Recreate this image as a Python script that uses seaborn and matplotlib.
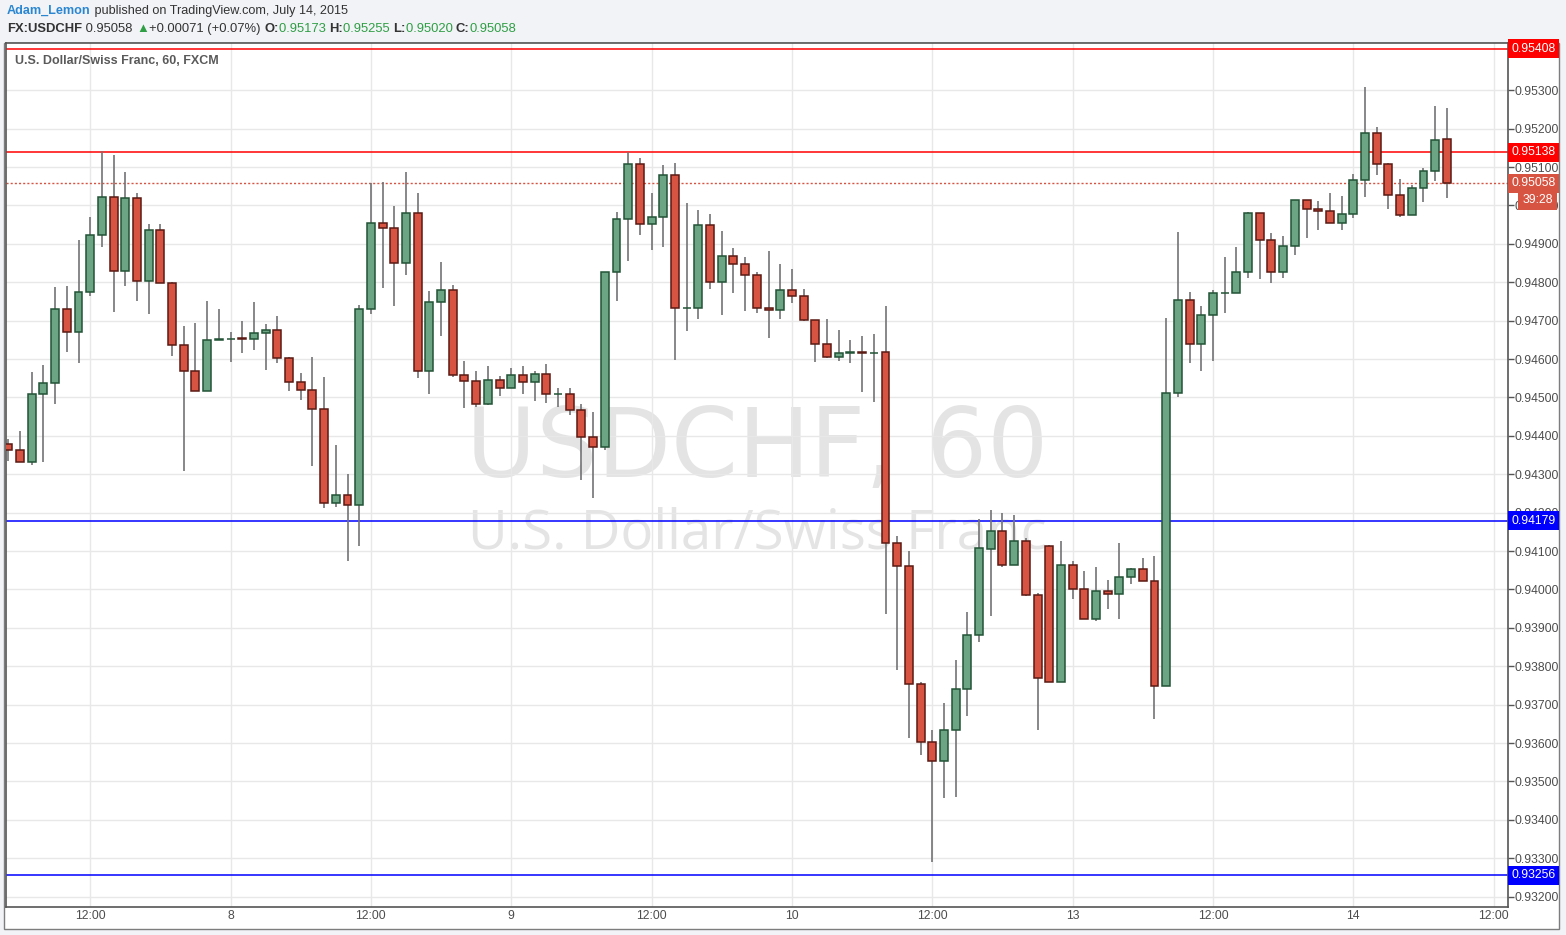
import numpy as np
import pandas as pd
import seaborn as sns
import matplotlib.pyplot as plt
import matplotlib.transforms as mtransforms
from matplotlib.patches import Rectangle

# hourly FX:USDCHF candles, July 7 05:00 .. July 14 08:00 (weekend removed)
opens = [0.94378, 0.94362, 0.94331, 0.94508, 0.94537, 0.94730, 0.94670, 0.94774, 0.94923, 0.95022,
         0.94829, 0.95019, 0.94803, 0.94936, 0.94798, 0.94636, 0.94568, 0.94516, 0.94649, 0.94652,
         0.94654, 0.94651, 0.94667, 0.94675, 0.94602, 0.94539, 0.94519, 0.94469, 0.94224, 0.94247,
         0.94221, 0.94730, 0.94954, 0.94941, 0.94850, 0.94980, 0.94568, 0.94748, 0.94779, 0.94558,
         0.94542, 0.94482, 0.94545, 0.94524, 0.94558, 0.94539, 0.94560, 0.94508, 0.94508, 0.94466,
         0.94398, 0.94370, 0.94826, 0.94965, 0.95108, 0.94951, 0.94970, 0.95079, 0.94732, 0.94732,
         0.94949, 0.94800, 0.94868, 0.94847, 0.94819, 0.94732, 0.94727, 0.94779, 0.94764, 0.94701,
         0.94638, 0.94604, 0.94617, 0.94618, 0.94616, 0.94618, 0.94122, 0.94061, 0.93754, 0.93603,
         0.93554, 0.93633, 0.93742, 0.93882, 0.94105, 0.94151, 0.94063, 0.94127, 0.93986, 0.94114,
         0.93759, 0.94063, 0.94001, 0.93924, 0.93996, 0.93987, 0.94033, 0.94054, 0.94023, 0.93749,
         0.94511, 0.94754, 0.94638, 0.94714, 0.94772, 0.94772, 0.94826, 0.94980, 0.94910, 0.94827,
         0.94894, 0.95014, 0.94991, 0.94986, 0.94955, 0.94977, 0.95067, 0.95189, 0.95108, 0.95027,
         0.94975, 0.95045, 0.95090, 0.95173]
highs = [0.94391, 0.94412, 0.94566, 0.94584, 0.94788, 0.94791, 0.94910, 0.94971, 0.95143, 0.95132,
         0.95088, 0.95033, 0.94952, 0.94952, 0.94800, 0.94686, 0.94694, 0.94751, 0.94731, 0.94670,
         0.94699, 0.94749, 0.94691, 0.94712, 0.94604, 0.94563, 0.94604, 0.94552, 0.94376, 0.94300,
         0.94742, 0.95059, 0.95061, 0.94998, 0.95088, 0.95033, 0.94777, 0.94852, 0.94793, 0.94594,
         0.94568, 0.94581, 0.94555, 0.94576, 0.94581, 0.94568, 0.94586, 0.94524, 0.94524, 0.94482,
         0.94461, 0.94826, 0.94983, 0.95139, 0.95124, 0.95033, 0.95105, 0.95110, 0.95006, 0.94988,
         0.94978, 0.94933, 0.94889, 0.94865, 0.94826, 0.94881, 0.94847, 0.94834, 0.94782, 0.94701,
         0.94704, 0.94675, 0.94649, 0.94659, 0.94665, 0.94739, 0.94140, 0.94099, 0.93760, 0.93633,
         0.93703, 0.93815, 0.93941, 0.94184, 0.94207, 0.94199, 0.94193, 0.94135, 0.93990, 0.94117,
         0.94125, 0.94073, 0.94049, 0.94059, 0.94025, 0.94122, 0.94056, 0.94081, 0.94086, 0.94707,
         0.94931, 0.94775, 0.94739, 0.94780, 0.94866, 0.94892, 0.94983, 0.94980, 0.94928, 0.94920,
         0.95014, 0.95014, 0.95012, 0.95033, 0.95025, 0.95083, 0.95309, 0.95205, 0.95111, 0.95070,
         0.95053, 0.95098, 0.95260, 0.95255]
lows = [0.94335, 0.94331, 0.94324, 0.94331, 0.94484, 0.94619, 0.94590, 0.94763, 0.94893, 0.94723,
        0.94789, 0.94750, 0.94718, 0.94798, 0.94609, 0.94309, 0.94516, 0.94516, 0.94649, 0.94593,
        0.94616, 0.94624, 0.94572, 0.94590, 0.94517, 0.94494, 0.94322, 0.94211, 0.94215, 0.94074,
        0.94113, 0.94718, 0.94786, 0.94737, 0.94820, 0.94551, 0.94510, 0.94659, 0.94552, 0.94472,
        0.94474, 0.94479, 0.94503, 0.94524, 0.94510, 0.94490, 0.94485, 0.94474, 0.94453, 0.94285,
        0.94239, 0.94364, 0.94750, 0.94854, 0.94924, 0.94885, 0.94893, 0.94597, 0.94672, 0.94704,
        0.94782, 0.94714, 0.94772, 0.94725, 0.94719, 0.94654, 0.94704, 0.94745, 0.94698, 0.94591,
        0.94602, 0.94594, 0.94589, 0.94513, 0.94487, 0.93937, 0.93790, 0.93613, 0.93569, 0.93289,
        0.93456, 0.93460, 0.93671, 0.93863, 0.93931, 0.94059, 0.94063, 0.93983, 0.93634, 0.93759,
        0.93759, 0.93975, 0.93924, 0.93918, 0.93949, 0.93923, 0.94014, 0.94023, 0.93662, 0.93749,
        0.94500, 0.94590, 0.94570, 0.94594, 0.94721, 0.94772, 0.94810, 0.94808, 0.94799, 0.94812,
        0.94870, 0.94914, 0.94935, 0.94955, 0.94935, 0.94968, 0.95021, 0.95080, 0.94990, 0.94971,
        0.94975, 0.95008, 0.95064, 0.95020]
closes = [0.94362, 0.94331, 0.94508, 0.94537, 0.94730, 0.94670, 0.94774, 0.94923, 0.95022, 0.94829,
          0.95019, 0.94803, 0.94936, 0.94798, 0.94636, 0.94568, 0.94516, 0.94649, 0.94651, 0.94653,
          0.94652, 0.94667, 0.94675, 0.94602, 0.94539, 0.94519, 0.94469, 0.94224, 0.94247, 0.94221,
          0.94730, 0.94954, 0.94941, 0.94850, 0.94980, 0.94568, 0.94748, 0.94779, 0.94558, 0.94542,
          0.94482, 0.94545, 0.94524, 0.94558, 0.94539, 0.94560, 0.94508, 0.94509, 0.94466, 0.94398,
          0.94370, 0.94826, 0.94965, 0.95108, 0.94951, 0.94970, 0.95079, 0.94732, 0.94733, 0.94949,
          0.94800, 0.94868, 0.94847, 0.94819, 0.94732, 0.94727, 0.94779, 0.94764, 0.94701, 0.94638,
          0.94604, 0.94617, 0.94618, 0.94616, 0.94617, 0.94122, 0.94061, 0.93754, 0.93603, 0.93554,
          0.93633, 0.93742, 0.93882, 0.94108, 0.94151, 0.94063, 0.94127, 0.93986, 0.93770, 0.93759,
          0.94063, 0.94001, 0.93924, 0.93996, 0.93987, 0.94033, 0.94054, 0.94023, 0.93749, 0.94511,
          0.94754, 0.94638, 0.94714, 0.94772, 0.94773, 0.94826, 0.94980, 0.94910, 0.94827, 0.94894,
          0.95014, 0.94991, 0.94986, 0.94955, 0.94977, 0.95067, 0.95189, 0.95108, 0.95027, 0.94975,
          0.95045, 0.95090, 0.95171, 0.95058]

time_ticks = [7, 19, 31, 43, 55, 67, 79, 91, 103, 115, 127]
time_labels = ["12:00", "8", "12:00", "9", "12:00", "10", "12:00", "13", "12:00", "14", "12:00"]
price_ticks = [0.932, 0.933, 0.934, 0.935, 0.936, 0.937, 0.938, 0.939, 0.940, 0.941, 0.942,
               0.943, 0.944, 0.945, 0.946, 0.947, 0.948, 0.949, 0.950, 0.951, 0.952, 0.953]

levels = [0.95408, 0.95138, 0.94179, 0.93256]
level_colors = ["#ff0000", "#ff0000", "#0000ff", "#0000ff"]
last_price = 0.95058
countdown = "39:28"

W, H = 1566, 935
UP, UP_EDGE = "#6ba583", "#225437"
DN, DN_EDGE = "#d75442", "#5b1a13"

df = pd.DataFrame({"open": opens, "high": highs, "low": lows, "close": closes})
df["bar"] = np.arange(len(df))
df["up"] = df["close"] >= df["open"]

sns.set_theme(style="white")
plt.rcParams["font.family"] = ["Liberation Sans", "DejaVu Sans"]

fig = plt.figure(figsize=(W / 100, H / 100), dpi=100)
fig.patch.set_facecolor("#f1f3f7")
fig.patches.append(Rectangle((4 / W, 1 - 929 / H), 1555 / W, 886 / H, transform=fig.transFigure,
                             facecolor="white", edgecolor="#7d7d7d", lw=1, zorder=-5))

ax = fig.add_axes([6 / W, 1 - 907 / H, 1501.7 / W, 864 / H])
ax.set_zorder(2)
ax.set_facecolor("white")

# watermark
ax.text(0.5, 0.4977, "USDCHF, 60", transform=ax.transAxes, ha="center", va="baseline",
        fontsize=69, color="#e4e4e4", family="DejaVu Sans", zorder=0)
ax.text(0.5004, 0.4155, "U.S. Dollar/Swiss Franc", transform=ax.transAxes, ha="center",
        va="baseline", fontsize=39.3, color="#e4e4e4", family="Open Sans", zorder=0)

# wicks and bodies
ax.vlines(df["bar"], df["low"], df["high"], color="#737375", lw=1.2, zorder=3)
for up, part in df.groupby("up"):
    bottom = np.minimum(part["open"], part["close"])
    height = (part["close"] - part["open"]).abs()
    ax.bar(part["bar"], height, bottom=bottom, width=0.68,
           color=UP if up else DN, edgecolor=UP_EDGE if up else DN_EDGE, lw=1.1, zorder=4)

# horizontal levels
for lvl, col in zip(levels, level_colors):
    ax.axhline(lvl, color=col, lw=1.1, zorder=2)
ax.axhline(last_price, color=DN, lw=1, ls=(0, (1.5, 1.5)), zorder=2)

ax.set_xlim(-0.2, 128.2)
ax.set_ylim(0.93173, 0.95423)
ax.set_xticks(time_ticks, time_labels)
ax.set_yticks(price_ticks, [f"{p:.5f}" for p in price_ticks])
ax.yaxis.tick_right()
ax.tick_params(axis="y", length=4, width=1, color="#555555", labelsize=8.7,
               labelcolor="#4d4d4d", pad=1)
ax.tick_params(axis="x", length=0, labelsize=8.7, labelcolor="#4d4d4d", pad=2)
ax.grid(True, color="#e8e8e8", lw=1, zorder=1)
ax.set_axisbelow(True)
for sp in ax.spines.values():
    sp.set_color("#555555")
    sp.set_linewidth(1.2)

ax.text(9 / 1501.7, (907 - 61) / 864, "U.S. Dollar/Swiss Franc, 60, FXCM", transform=ax.transAxes,
        ha="left", va="center", fontsize=9, fontweight="bold", color="#5a5a5a")

# price scale labels
lab_tr = mtransforms.blended_transform_factory(ax.transAxes, ax.transData)
x_lab = (1511 - 6) / 1501.7
for lvl, col in zip(levels + [last_price], level_colors + [DN]):
    ax.text(x_lab, lvl, f"{lvl:.5f}", transform=lab_tr, ha="left", va="center", fontsize=8.7,
            color="white", clip_on=False, zorder=10,
            bbox=dict(boxstyle="square,pad=0.28", fc=col, ec="none"))
ax.text((1553 - 6) / 1501.7, 0.95015, countdown, transform=lab_tr, ha="right", va="center",
        fontsize=8.7, color="white", clip_on=False, zorder=10,
        bbox=dict(boxstyle="square,pad=0.35", fc=DN, ec="none"))

# header
renderer = fig.canvas.get_renderer()


def text_run(x, y, pieces, size=9.3):
    for s, col, wt in pieces:
        t = fig.text(x / W, 1 - y / H, s, color=col, fontsize=size, fontweight=wt,
                     ha="left", va="center")
        x += t.get_window_extent(renderer=renderer).width


GREEN = "#2f9e44"
text_run(7, 11, [("Adam_Lemon", "#2a86d1", "bold"),
                 (" published on TradingView.com, July 14, 2015", "#333333", "normal")], 9.1)
text_run(7, 29, [("FX:USDCHF", "#333333", "bold"), (" 0.95058 ", "#333333", "normal"),
                 ("▲", GREEN, "normal"), ("+0.00071 (+0.07%) ", "#333333", "normal"),
                 ("O:", "#333333", "bold"), ("0.95173 ", GREEN, "normal"),
                 ("H:", "#333333", "bold"), ("0.95255 ", GREEN, "normal"),
                 ("L:", "#333333", "bold"), ("0.95020 ", GREEN, "normal"),
                 ("C:", "#333333", "bold"), ("0.95058", GREEN, "normal")], 9.4)

fig.savefig("out.png", dpi=100, facecolor=fig.get_facecolor())
